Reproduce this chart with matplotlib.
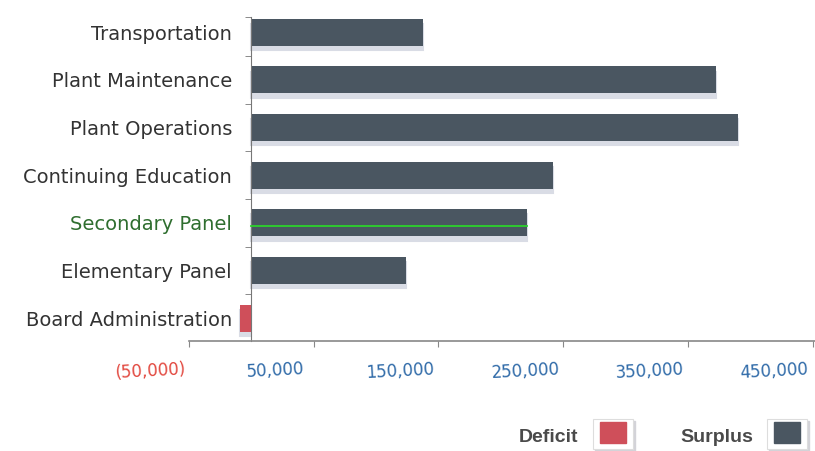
import matplotlib
matplotlib.use('Agg')
import matplotlib.pyplot as plt
import matplotlib.transforms as mtransforms
from matplotlib.patches import Rectangle

categories = ['Transportation', 'Plant Maintenance', 'Plant Operations',
              'Continuing Education', 'Secondary Panel', 'Elementary Panel',
              'Board Administration']
values = [138000, 373000, 390000, 242000, 221000, 124000, -9000]
tick_values = [-50000, 50000, 150000, 250000, 350000, 450000]
tick_labels = ['(50,000)', '50,000', '150,000', '250,000', '350,000', '450,000']
legend_labels = ['Deficit', 'Surplus']

surplus_color = '#4a5661'
deficit_color = '#cf4f5a'
shadow_color = '#d9dce5'

fig = plt.figure(figsize=(8.15, 4.51), dpi=100)
ax = fig.add_axes([189 / 815, 1 - 341 / 451, 1 - 189 / 815, (341 - 17) / 451])

ypos = list(range(len(categories)))
colors = [deficit_color if v < 0 else surplus_color for v in values]

# soft shadow under every bar
ax.barh([y + 0.1 for y in ypos], values, height=0.55, color=shadow_color,
        edgecolor=shadow_color, linewidth=1.5, zorder=1)
ax.barh(ypos, values, height=0.57, color=colors, zorder=2)

# green highlight line on the Secondary Panel bar
ax.plot([0, values[4]], [ypos[4] + 0.06, ypos[4] + 0.06], color='#2bd12b',
        lw=1.3, zorder=3)

ax.set_xlim(-50000, 452000)
ax.set_ylim(6.48, -0.32)

for s in ['top', 'right']:
    ax.spines[s].set_visible(False)
ax.spines['left'].set_position(('data', 0))
ax.spines['left'].set_color('#777777')
ax.spines['bottom'].set_color('#888888')
ax.spines['bottom'].set_linewidth(1.2)

ax.set_yticks(ypos)
ax.set_yticklabels(categories, fontsize=14, color='#333333')
ax.get_yticklabels()[4].set_color('#2f6e2f')
ax.set_yticks([-0.32] + [i + 0.5 for i in range(6)], minor=True)
ax.tick_params(axis='y', which='major', length=0, pad=14)
ax.tick_params(axis='y', which='minor', length=4, color='#777777')

ax.set_xticks(tick_values)
ax.set_xticklabels(tick_labels, fontsize=12, rotation=3)
ax.tick_params(axis='x', length=4, color='#888888', pad=10)
offset = mtransforms.ScaledTranslation(-0.38, 0, fig.dpi_scale_trans)
for i, lab in enumerate(ax.get_xticklabels()):
    lab.set_transform(lab.get_transform() + offset)
    lab.set_color('#e2483f' if i == 0 else '#2f6aa8')

# legend swatches drawn by hand
W, H = 815, 451
def swatch(x0, y0, color):
    fig.add_artist(Rectangle(((x0 + 2) / W, 1 - (y0 + 32) / H), 40 / W, 30 / H,
                             transform=fig.transFigure, color='#d3d3d8', zorder=1))
    fig.add_artist(Rectangle((x0 / W, 1 - (y0 + 30) / H), 40 / W, 30 / H,
                             transform=fig.transFigure, facecolor='white',
                             edgecolor='#dddddd', lw=0.8, zorder=2))
    fig.add_artist(Rectangle(((x0 + 7) / W, 1 - (y0 + 24) / H), 26 / W, 21 / H,
                             transform=fig.transFigure, color=color, zorder=3))

fig.text(578 / W, 1 - 437 / H, legend_labels[0], ha='right', va='center',
         fontsize=14, fontweight='bold', color='#4a4a4a', family='Liberation Sans')
swatch(593, 419, deficit_color)
fig.text(753 / W, 1 - 437 / H, legend_labels[1], ha='right', va='center',
         fontsize=14, fontweight='bold', color='#4a4a4a', family='Liberation Sans')
swatch(767, 419, surplus_color)

fig.savefig('out.png', dpi=100)
